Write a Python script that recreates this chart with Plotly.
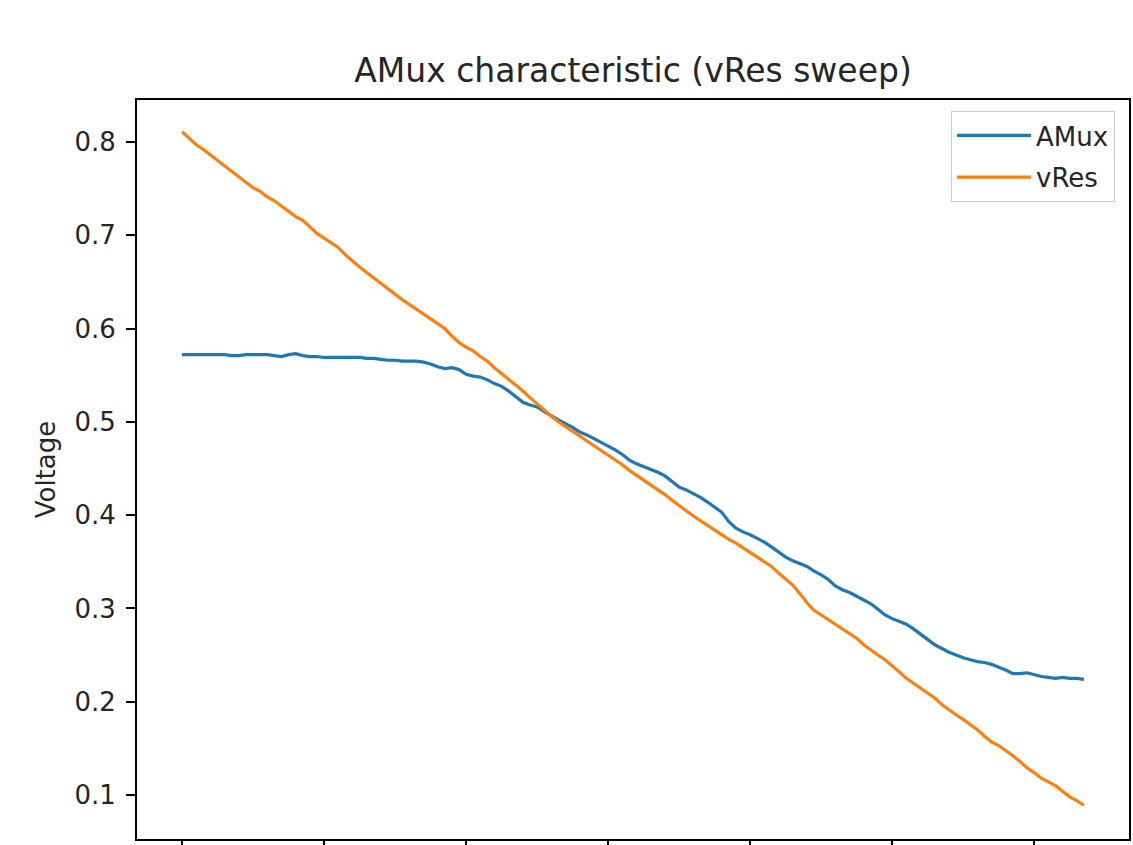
import plotly.graph_objects as go

# ---- data ----
x_index = list(range(128))

amux = [0.572, 0.572, 0.572, 0.572, 0.572, 0.572, 0.572, 0.571, 0.571, 0.572,
        0.572, 0.572, 0.572, 0.571, 0.570, 0.572, 0.573, 0.571, 0.570, 0.570,
        0.569, 0.569, 0.569, 0.569, 0.569, 0.569, 0.568, 0.568, 0.567, 0.566,
        0.566, 0.565, 0.565, 0.565, 0.564, 0.562, 0.559, 0.557, 0.558, 0.556,
        0.551, 0.549, 0.548, 0.545, 0.541, 0.538, 0.533, 0.527, 0.521, 0.518,
        0.516, 0.511, 0.506, 0.502, 0.498, 0.494, 0.489, 0.486, 0.482, 0.478,
        0.474, 0.470, 0.465, 0.459, 0.455, 0.452, 0.449, 0.446, 0.442, 0.436,
        0.430, 0.427, 0.423, 0.419, 0.414, 0.409, 0.403, 0.393, 0.386, 0.382,
        0.379, 0.375, 0.371, 0.366, 0.360, 0.355, 0.351, 0.348, 0.345, 0.340,
        0.336, 0.331, 0.324, 0.320, 0.317, 0.313, 0.309, 0.305, 0.299, 0.293,
        0.289, 0.286, 0.283, 0.278, 0.272, 0.266, 0.261, 0.257, 0.253, 0.250,
        0.247, 0.245, 0.243, 0.242, 0.240, 0.237, 0.234, 0.230, 0.230, 0.231,
        0.229, 0.227, 0.226, 0.225, 0.226, 0.225, 0.225, 0.224]

vres = [0.811, 0.804, 0.797, 0.792, 0.786, 0.781, 0.775, 0.768, 0.762, 0.756,
        0.751, 0.747, 0.741, 0.737, 0.731, 0.725, 0.720, 0.716, 0.709, 0.702,
        0.697, 0.692, 0.687, 0.679, 0.672, 0.666, 0.660, 0.654, 0.648, 0.642,
        0.637, 0.631, 0.626, 0.621, 0.616, 0.611, 0.605, 0.600, 0.592, 0.585,
        0.580, 0.576, 0.570, 0.565, 0.558, 0.552, 0.546, 0.540, 0.533, 0.526,
        0.519, 0.512, 0.506, 0.500, 0.495, 0.490, 0.485, 0.480, 0.475, 0.469,
        0.465, 0.460, 0.454, 0.448, 0.443, 0.437, 0.432, 0.427, 0.422, 0.416,
        0.410, 0.404, 0.399, 0.394, 0.389, 0.384, 0.379, 0.374, 0.370, 0.365,
        0.361, 0.356, 0.350, 0.345, 0.338, 0.331, 0.325, 0.316, 0.306, 0.298,
        0.293, 0.288, 0.283, 0.279, 0.274, 0.268, 0.261, 0.255, 0.250, 0.245,
        0.239, 0.232, 0.225, 0.220, 0.214, 0.210, 0.204, 0.197, 0.191, 0.186,
        0.181, 0.176, 0.170, 0.163, 0.157, 0.153, 0.148, 0.142, 0.136, 0.129,
        0.124, 0.118, 0.114, 0.110, 0.104, 0.098, 0.094, 0.089]

series_names = ["AMux", "vRes"]
series_colors = ["#1f77b4", "#ff7f0e"]
x_ticks = [0, 20, 40, 60, 80, 100, 120]
y_ticks = [0.1, 0.2, 0.3, 0.4, 0.5, 0.6, 0.7, 0.8]
y_tick_labels = ["0.1", "0.2", "0.3", "0.4", "0.5", "0.6", "0.7", "0.8"]
title_text = "AMux characteristic (vRes sweep)"
y_label = "Voltage"

FONT = "DejaVu Sans, Liberation Sans, sans-serif"
TXT = "#262626"

fig = go.Figure()
for name, vals, col in zip(series_names, [amux, vres], series_colors):
    fig.add_trace(go.Scatter(x=x_index, y=vals, mode="lines", name=name,
                             legendgroup=name,
                             line=dict(color=col, width=3.2)))

fig.update_layout(
    width=1133, height=845,
    margin=dict(l=137, r=4, t=100, b=6, autoexpand=False),
    paper_bgcolor="white", plot_bgcolor="white",
    font=dict(family=FONT, size=26, color=TXT),
    title=dict(text=title_text, x=(137 + 1129) / 2 / 1133, xanchor="center",
               y=1 - 70 / 845, yanchor="middle",
               font=dict(family=FONT, size=33, color=TXT)),
    showlegend=True,
    legend=dict(x=(1115 - 137) / 992, xanchor="right", y=(839 - 111) / 739,
                yanchor="top",
                bgcolor="rgba(255,255,255,0.8)", bordercolor="#cccccc",
                borderwidth=1, font=dict(family=FONT, size=26, color=TXT),
                tracegroupgap=5, itemwidth=74),
)

fig.update_xaxes(range=[-6.35, 133.35], showgrid=False, zeroline=False,
                 showline=True, linecolor="black", linewidth=2, mirror=True,
                 ticks="outside", ticklen=9, tickwidth=2, tickcolor="black",
                 tickvals=x_ticks, showticklabels=False, automargin=False)
fig.update_yaxes(range=[0.0528, 0.845], showgrid=False, zeroline=False,
                 showline=True, linecolor="black", linewidth=2, mirror=True,
                 ticks="outside", ticklen=9, tickwidth=2, tickcolor="black",
                 tickvals=y_ticks, ticktext=y_tick_labels,
                 ticklabelstandoff=5, automargin=False,
                 title=dict(text=y_label, standoff=11,
                            font=dict(family=FONT, size=26, color=TXT)))

fig.write_html("out.html")
